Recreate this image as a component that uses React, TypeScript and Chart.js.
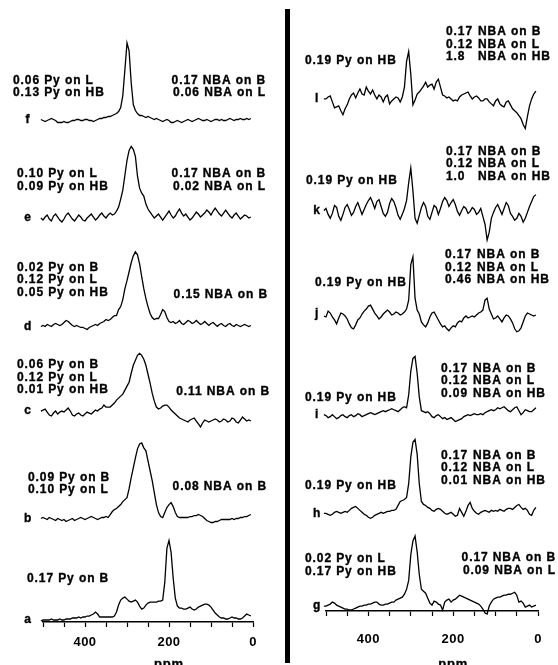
import { useEffect, useRef } from 'react';
import { Chart, registerables } from 'chart.js';

Chart.register(...registerables);

// chemical shift sampling grid (ppm), 505 -> 5 in 5 ppm steps
const PPM: number[] = Array.from({ length: 101 }, (_, i) => 505 - 5 * i);

// ---- left panel traces (a..f), intensity relative to each baseline ----
const TRACE_F = [
  0, -1, -2, -1, 0, 1, 0, -1, -3, -3,
  -3, -2, -3, -3, -2, -1, -1, 0, 0, -1,
  -1, 0, 0, -1, -1, -2, -1, 0, 1, 1,
  2, 2, 3, 3, 4, 5, 6, 8, 12, 24,
  50, 77, 69, 37, 15, 9, 6, 4, 4, 3,
  2, 3, 2, 1, 0, 1, 0, -1, -2, -1,
  0, -1, -3, -3, -2, -1, -2, -3, -2, -1,
  0, -1, -2, -1, 0, 1, 0, -1, -1, 0,
  -1, -2, -1, 0, 0, -1, 0, -1, -1, 0,
  1, 0, -1, 0, 0, 1, 0, 0, 1, 0,
  1,
];
const TRACE_E = [
  0, -2, 1, 3, -1, -3, 2, 4, 1, -2,
  -4, -1, 3, 5, 2, -1, -3, 0, 3, 1,
  -2, -3, 0, 2, 4, 1, -2, 0, 3, 5,
  2, 0, 3, 5, 3, 4, 7, 11, 19, 28,
  43, 58, 68, 72, 69, 62, 42, 30, 25, 22,
  14, 9, 6, 3, 0, 2, 4, 1, -2, 1,
  4, 7, 3, 0, 2, 6, 9, 5, 2, 4,
  1, -2, 0, 3, 6, 4, 1, 3, 5, 8,
  6, 3, 7, 10, 7, 4, 2, 5, 8, 5,
  2, 0, 3, 5, 2, -1, 1, 3, 2, 0,
  1,
];
const TRACE_D = [
  0, 1, 0, 2, 1, 0, 2, 3, 2, 1,
  2, 4, 6, 5, 3, 1, 0, 1, 0, -1,
  -1, -2, -3, -1, 0, 1, 2, 1, 3, 4,
  5, 7, 6, 7, 9, 11, 11, 17, 20, 27,
  38, 46, 55, 64, 71, 75, 72, 63, 50, 38,
  28, 20, 13, 9, 7, 8, 8, 12, 17, 15,
  9, 5, 4, 5, 3, 4, 6, 3, 2, 4,
  6, 5, 3, 4, 6, 4, 2, 3, 5, 3,
  1, 3, 4, 2, 0, 2, 3, 1, 0, 2,
  3, 1, 0, 2, 1, 0, 1, 2, 1, 0,
  1,
];
const TRACE_C = [
  0, 1, 2, -1, -4, -5, -2, 0, -3, -1,
  0, -1, 1, 3, 0, -4, -5, -3, -2, -4,
  -5, -3, -1, -2, -3, -1, 1, 0, 2, 3,
  6, 4, 4, 4, 6, 8, 11, 13, 15, 17,
  21, 25, 29, 38, 46, 51, 56, 58, 56, 52,
  46, 37, 28, 18, 10, 4, 2, 3, 5, 6,
  6, 4, 1, -1, -3, -5, -7, -8, -9, -10,
  -11, -9, -8, -7, -10, -13, -16, -12, -9, -10,
  -11, -10, -9, -8, -9, -11, -10, -8, -9, -11,
  -10, -7, -8, -11, -12, -9, -6, -8, -10, -9,
  -10,
];
const TRACE_B = [
  0, 1, 0, -1, 1, 0, -1, -2, 0, -1,
  -2, -1, -3, -2, -1, 0, -2, -1, 0, 1,
  0, -1, 0, 1, 2, 1, 0, -1, 0, 1,
  1, 2, 1, 4, 7, 9, 10, 12, 14, 17,
  19, 21, 30, 41, 51, 61, 70, 75, 76, 71,
  68, 58, 48, 38, 26, 14, 6, 2, 1, 6,
  11, 14, 16, 12, 6, 2, 1, 1, 1, 1,
  1, 2, 2, 3, 3, 4, 3, 2, 0, -2,
  -3, -4, -4, -3, -3, -2, -1, -1, -1, -1,
  -1, 0, -1, 0, 0, 1, 1, 2, 2, 3,
  4,
];
const TRACE_A = [
  -1, 0, 0, 0, 0, 1, 0, 0, 0, 1,
  0, 0, 1, 1, 1, 2, 2, 2, 3, 2,
  3, 3, 4, 4, 5, 6, 8, 6, 3, 3,
  3, 3, 3, 3, 3, 4, 8, 15, 20, 22,
  23, 21, 19, 18, 19, 20, 18, 14, 11, 12,
  15, 17, 18, 18, 18, 18, 19, 19, 20, 38,
  72, 80, 68, 42, 22, 14, 12, 12, 11, 11,
  12, 13, 11, 10, 11, 13, 14, 15, 16, 16,
  15, 13, 10, 7, 5, 3, 2, 2, 1, 1,
  2, 3, 2, 2, 1, 1, 2, 4, 6, 5,
  4,
];

// ---- right panel traces (g..l) ----
const TRACE_L = [
  0, 0, 2, 3, -3, -9, -8, -7, -12, -16,
  -10, -6, 0, 4, 6, 1, 6, 10, 5, 4,
  12, 8, 5, 9, 4, 0, 4, 2, -3, 2,
  4, -5, -2, 0, 2, 1, -3, 2, 12, 38,
  48, 25, -6, -1, 5, 7, 10, 13, 17, 12,
  14, 15, 10, 17, 20, 12, 4, 3, 1, 2,
  0, -2, -1, -2, 2, 4, 5, 6, 7, 3,
  0, 2, 3, 1, -2, -2, 0, 0, -3, -5,
  -7, -2, 0, -5, -7, -8, -3, -2, -6, -10,
  -12, -14, -17, -20, -26, -30, -18, -7, 0, 5,
  8,
];
const TRACE_K = [
  0, 2, -4, -8, -3, 5, 3, -6, -10, -4,
  3, 6, 1, -5, -2, 4, 8, 2, -4, 1,
  6, 10, 13, 8, 2, 9, 11, 4, -3, -6,
  -2, 7, 12, 9, 3, -5, -9, -4, 2, 10,
  28, 43, 20, -8, -13, -5, 3, 8, 4, -6,
  -9, -2, 5, 3, -4, 2, 9, 13, 10, 4,
  8, 11, 6, -1, -5, 0, 4, 2, -3, -1,
  3, 1, -4, -2, 2, -6, -14, -30, -22, -8,
  -2, 3, 6, 1, -4, 2, 8, 5, -3, -6,
  -10, -8, -3, -6, -12, -8, -2, 4, 9, 14,
  16,
];
const TRACE_J = [
  -2, -3, 3, 1, -3, -6, -10, -4, 1, 0,
  -2, -5, -10, -14, -15, -11, -6, -4, 0, 3,
  5, 8, 9, 5, 1, -2, -5, -3, 0, 2,
  4, 2, -1, 0, 2, 1, -1, 0, 2, 5,
  14, 50, 58, 16, 4, 0, -8, -11, -13, -9,
  -3, 1, 2, -2, -6, -10, -13, -12, -15, -17,
  -14, -12, -13, -9, -7, -8, -4, -2, -4, -3,
  -2, -3, -1, 1, 2, 4, 14, 16, 5, 0,
  -5, -4, -2, -5, -8, -4, -1, -2, -5, -9,
  -15, -18, -17, -14, -8, -2, 1, 0, -1, -2,
  -1,
];
const TRACE_I = [
  0, -1, -3, -2, 0, -2, -4, -3, -1, 0,
  -2, -3, -1, 0, -2, -1, 1, 0, -2, -1,
  0, 1, 2, 1, 0, 1, 2, 3, 4, 3,
  4, 5, 6, 5, 4, 3, 5, 7, 8, 7,
  20, 44, 57, 59, 42, 18, 4, 3, 2, 3,
  1, -2, -3, -1, 0, -2, -4, -3, -5, -4,
  -3, -5, -7, -6, -5, -4, -2, -1, 0, -1,
  0, 1, 0, 0, 1, 0, 2, 3, 4, 5,
  4, 5, 7, 6, 7, 8, 6, 4, 3, 5,
  7, 8, 4, 0, 2, 5, 4, 3, 3, 5,
  7,
];
const TRACE_H = [
  0, 0, -1, -2, -1, 1, 2, 1, 0, 1,
  2, 1, 3, 5, 6, 7, 5, 3, 1, -1,
  -2, -4, -5, -4, -2, -1, 0, 1, 0, 1,
  2, 2, 3, 3, 4, 8, 12, 13, 14, 16,
  30, 57, 72, 75, 60, 30, 12, 9, 8, 6,
  5, 3, 2, 4, 5, 4, 2, 0, -1, 0,
  1, -1, -3, -2, 5, 1, -3, 2, 8, 11,
  5, 2, 0, -1, 1, 2, 3, 2, 1, 3,
  2, 3, 2, 4, 3, 2, 4, 5, 5, 4,
  6, 8, 9, 6, 4, 5, 3, -1, -2, 3,
  6,
];
const TRACE_G = [
  0, 0, 1, 2, 4, 3, 1, 0, -1, -2,
  -3, -3, -4, -4, -3, -2, -1, 0, 0, 1,
  1, 2, 2, 3, 4, 4, 2, 1, 1, 2,
  2, 3, 4, 4, 6, 7, 8, 9, 12, 17,
  26, 52, 66, 71, 55, 32, 17, 15, 13, 8,
  3, 1, 5, 4, 2, 1, -4, 4, 6, 7,
  4, 6, 7, 9, 11, 10, 9, 8, 7, 6,
  5, 4, 3, 2, 0, -3, -7, -8, 0, 4,
  7, 8, 9, 9, 10, 11, 11, 12, 12, 13,
  14, 11, 4, 5, 3, -1, 0, 1, -1, 0,
  1,
];

// tick labels shown on the ppm axis
const X_TICK_LABELS = [400, 200, 0];

// text content
const TXT_F_L = ['0.06 Py on L', '0.13 Py on HB'];
const TXT_F_R = ['0.17 NBA on B', '0.06 NBA on L'];
const TXT_E_L = ['0.10 Py on L', '0.09 Py on HB'];
const TXT_E_R = ['0.17 NBA on B', '0.02 NBA on L'];
const TXT_D_L = ['0.02 Py on B', '0.12 Py on L', '0.05 Py on HB'];
const TXT_D_R = ['0.15 NBA on B'];
const TXT_C_L = ['0.06 Py on B', '0.12 Py on L', '0.01 Py on HB'];
const TXT_C_R = ['0.11 NBA on B'];
const TXT_B_L = ['0.09 Py on B', '0.10 Py on L'];
const TXT_B_R = ['0.08 NBA on B'];
const TXT_A_L = ['0.17 Py on B'];

const TXT_PY_HB = ['0.19 Py on HB'];
const TXT_L_R = ['0.17 NBA on B', '0.12 NBA on L', '1.8 NBA on HB'];
const TXT_K_R = ['0.17 NBA on B', '0.12 NBA on L', '1.0 NBA on HB'];
const TXT_J_R = ['0.17 NBA on B', '0.12 NBA on L', '0.46 NBA on HB'];
const TXT_I_R = ['0.17 NBA on B', '0.12 NBA on L', '0.09 NBA on HB'];
const TXT_H_R = ['0.17 NBA on B', '0.12 NBA on L', '0.01 NBA on HB'];
const TXT_G_L = ['0.02 Py on L', '0.17 Py on HB'];
const TXT_G_R = ['0.17 NBA on B', '0.09 NBA on L'];

const FONT = '"Liberation Sans", Arial, Helvetica, sans-serif';
const LINE_H = 12.5;
const SPLIT_COL = 32;

type Block = { lines: string[]; x: number; dy: number; align: 'left' | 'right'; split?: boolean };
type Row = { id: string; letter: string; values: number[]; min: number; max: number; blocks: Block[] };

const LEFT_ROWS: Row[] = [
  { id: 'f', letter: 'f', values: TRACE_F, min: -50, max: 100, blocks: [
    { lines: TXT_F_L, x: 13, dy: -39, align: 'left' },
    { lines: TXT_F_R, x: 266, dy: -39, align: 'right' }] },
  { id: 'e', letter: 'e', values: TRACE_E, min: -54, max: 49, blocks: [
    { lines: TXT_E_L, x: 17, dy: -44, align: 'left' },
    { lines: TXT_E_R, x: 266, dy: -44, align: 'right' }] },
  { id: 'd', letter: 'd', values: TRACE_D, min: -42, max: 55, blocks: [
    { lines: TXT_D_L, x: 17, dy: -59, align: 'left' },
    { lines: TXT_D_R, x: 268, dy: -32, align: 'right' }] },
  { id: 'c', letter: 'c', values: TRACE_C, min: -54, max: 43, blocks: [
    { lines: TXT_C_L, x: 17, dy: -46, align: 'left' },
    { lines: TXT_C_R, x: 270, dy: -19, align: 'right' }] },
  { id: 'b', letter: 'b', values: TRACE_B, min: -51, max: 54, blocks: [
    { lines: TXT_B_L, x: 28, dy: -41, align: 'left' },
    { lines: TXT_B_R, x: 267, dy: -32, align: 'right' }] },
  { id: 'a', letter: 'a', values: TRACE_A, min: -2, max: 51, blocks: [
    { lines: TXT_A_L, x: 27, dy: -41, align: 'left' }] },
];

const RIGHT_ROWS: Row[] = [
  { id: 'l', letter: 'l', values: TRACE_L, min: -57, max: 80, blocks: [
    { lines: TXT_PY_HB, x: 15, dy: -38, align: 'left' },
    { lines: TXT_L_R, x: 156, dy: -67, align: 'left', split: true }] },
  { id: 'k', letter: 'k', values: TRACE_K, min: -53, max: 56, blocks: [
    { lines: TXT_PY_HB, x: 16, dy: -30, align: 'left' },
    { lines: TXT_K_R, x: 156, dy: -59, align: 'left', split: true }] },
  { id: 'j', letter: 'j', values: TRACE_J, min: -51, max: 52, blocks: [
    { lines: TXT_PY_HB, x: 25, dy: -31, align: 'left' },
    { lines: TXT_J_R, x: 155, dy: -59, align: 'left', split: true }] },
  { id: 'i', letter: 'i', values: TRACE_I, min: -50, max: 51, blocks: [
    { lines: TXT_PY_HB, x: 15, dy: -17, align: 'left' },
    { lines: TXT_I_R, x: 151, dy: -46, align: 'left', split: true }] },
  { id: 'h', letter: 'h', values: TRACE_H, min: -47, max: 50, blocks: [
    { lines: TXT_PY_HB, x: 15, dy: -28, align: 'left' },
    { lines: TXT_H_R, x: 151, dy: -58, align: 'left', split: true }] },
  { id: 'g', letter: 'g', values: TRACE_G, min: -5, max: 47, blocks: [
    { lines: TXT_G_L, x: 15, dy: -47, align: 'left' },
    { lines: TXT_G_R, x: 266, dy: -48, align: 'right' }] },
];

function buildConfig(rows: Row[], padding: { left: number; right: number; top: number; bottom: number }, letterX: number, tickPad: number): any {
  const scales: any = {
    x: {
      type: 'linear',
      position: 'bottom',
      min: 0,
      max: 500,
      reverse: true,
      border: { display: true, color: '#000', width: 1.6 },
      grid: { display: true, drawOnChartArea: false, drawTicks: true, tickLength: 5, color: '#000', tickColor: '#000', tickWidth: 1.2 },
      ticks: {
        stepSize: 50,
        autoSkip: false,
        maxRotation: 0,
        padding: tickPad,
        color: '#000',
        font: { family: FONT, size: 13, weight: 'bold' },
        callback: (v: number) => (X_TICK_LABELS.includes(v) ? String(v) : ''),
      },
    },
  };
  rows.forEach((r) => {
    scales['y_' + r.id] = {
      type: 'linear',
      position: 'right',
      stack: 'rows',
      stackWeight: r.max - r.min,
      min: r.min,
      max: r.max,
      display: false,
    };
  });
  const datasets = rows.map((r) => ({
    label: r.letter,
    data: PPM.map((p, i) => ({ x: p, y: r.values[i] })),
    xAxisID: 'x',
    yAxisID: 'y_' + r.id,
    borderColor: '#000',
    borderWidth: 1.3,
    pointRadius: 0,
    fill: false,
    tension: 0,
    clip: false,
  }));
  const annot = {
    id: 'annot',
    beforeDraw(chart: any) {
      chart.ctx.letterSpacing = '0.5px';
    },
    afterDraw(chart: any) {
      const ctx = chart.ctx;
      ctx.save();
      ctx.fillStyle = '#000';
      ctx.strokeStyle = '#000';
      ctx.lineWidth = 0.35;
      ctx.textBaseline = 'middle';
      ctx.font = `bold 12px ${FONT}`;
      ctx.letterSpacing = '0.9px';
      const put = (s: string, x: number, y: number) => {
        ctx.fillText(s, x, y);
        ctx.strokeText(s, x, y);
      };
      for (const r of rows) {
        const ys = chart.scales['y_' + r.id];
        const y0 = ys.getPixelForValue(0);
        ctx.textAlign = 'center';
        put(r.letter, letterX, y0);
        for (const b of r.blocks) {
          b.lines.forEach((line, k) => {
            const y = y0 + b.dy + k * LINE_H;
            if (b.split) {
              const idx = line.indexOf(' ');
              ctx.textAlign = 'left';
              put(line.slice(0, idx), b.x, y);
              put(line.slice(idx + 1), b.x + SPLIT_COL, y);
            } else {
              ctx.textAlign = b.align;
              put(line, b.x, y);
            }
          });
        }
      }
      const xs = chart.scales.x;
      ctx.font = `bold 13px ${FONT}`;
      ctx.textAlign = 'center';
      ctx.textBaseline = 'alphabetic';
      put('ppm', xs.getPixelForValue(200), 668);
      ctx.restore();
      ctx.letterSpacing = '0px';
    },
  };
  return {
    type: 'line',
    data: { datasets },
    options: {
      responsive: false,
      animation: false,
      events: [],
      layout: { padding },
      plugins: { legend: { display: false }, tooltip: { enabled: false }, title: { display: false } },
      scales,
    },
    plugins: [annot],
  };
}

export default function App() {
  const leftRef = useRef<HTMLCanvasElement | null>(null);
  const rightRef = useRef<HTMLCanvasElement | null>(null);

  useEffect(() => {
    const charts: Chart[] = [];
    if (leftRef.current) {
      charts.push(new Chart(leftRef.current, buildConfig(LEFT_ROWS, { left: 43, right: 31, top: 20, bottom: 6.4 }, 28, 8)));
    }
    if (rightRef.current) {
      charts.push(new Chart(rightRef.current, buildConfig(RIGHT_ROWS, { left: 36, right: 20, top: 20, bottom: 1.4 }, 27, 16)));
    }
    return () => charts.forEach((c) => c.destroy());
  }, []);

  return (
    <div style={{ position: 'fixed', left: 0, top: 0, width: 558, height: 665, background: '#fff', overflow: 'hidden' }}>
      <canvas ref={leftRef} width={284} height={665} style={{ position: 'absolute', left: 0, top: 0, width: 284, height: 665 }} />
      <div style={{ position: 'absolute', left: 285, top: 9, width: 5, height: 654, background: '#000' }} />
      <canvas ref={rightRef} width={268} height={665} style={{ position: 'absolute', left: 290, top: 0, width: 268, height: 665 }} />
    </div>
  );
}
